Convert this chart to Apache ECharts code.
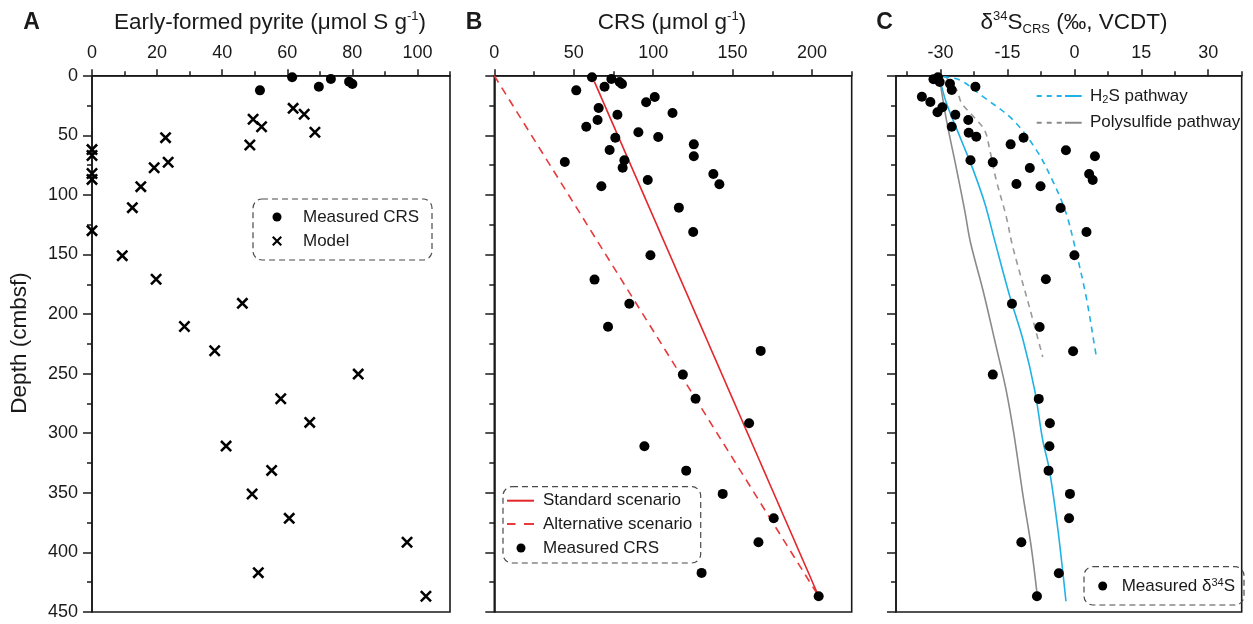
<!DOCTYPE html>
<html><head><meta charset="utf-8">
<script src="https://cdn.jsdelivr.net/npm/echarts@6/dist/echarts.min.js"></script>
<style>html,body{margin:0;padding:0;background:#fff}#c{width:1253px;height:624px}</style>
</head><body><div id="c"></div>
<script>
// ---------- data ----------
const depthTicks = [0, 50, 100, 150, 200, 250, 300, 350, 400, 450];
const aTicks = [0, 20, 40, 60, 80, 100];
const aMinorTicks = [10, 30, 50, 70, 90, 110];
const bTicks = [0, 50, 100, 150, 200];
const bMinorTicks = [25, 75, 125, 175, 225];
const cTicks = [-30, -15, 0, 15, 30];
const cMinorTicks = [-37.5, -22.5, -7.5, 7.5, 22.5, 37.5];

// Panel A: early-formed pyrite [umol S/g, depth cm]
const aMeasuredCRS = [[61.5,1.3],[73.4,2.8],[69.7,9.2],[51.6,12.3],[79,5],[80,7]];
const aModel = [[61.8,27.4],[49.5,36.6],[65.2,32.4],[52.1,42.8],[68.5,47.5],[48.5,58.1],[22.6,52],[23.4,72.6],
  [19.1,77.2],[15.0,93.1],[12.4,110.7],[0,130],[0,62],[0,67],[0,82],[0,87],[9.3,151],[19.7,170.8],[46.2,191],
  [28.4,210.5],[37.7,230.8],[81.8,250.4],[58.0,271.1],[66.9,290.9],[41.2,310.8],[55.2,331.2],[49.2,351],
  [60.6,371.4],[96.8,391.5],[51.1,417],[102.6,436.8]];

// Panel B: CRS [umol/g, depth cm]
const bMeasuredCRS = [[61.5,1.3],[73.7,2.8],[78.9,5.3],[80.4,7.0],[69.4,9.2],[51.6,12.3],[101,17.9],[95.6,22.3],
  [65.7,27.1],[112.2,31.3],[77.5,32.7],[65.0,37.2],[57.9,42.8],[90.7,47.5],[76.2,52],[103.2,51.4],[125.6,57.6],
  [72.6,62.3],[125.6,67.6],[44.4,72.4],[81.9,71],[80.8,77.2],[137.9,82.5],[141.7,91.1],[96.6,87.5],[67.4,92.8],
  [116.2,110.7],[125.2,131.1],[98.3,150.7],[63.1,171.1],[85.0,191.3],[71.6,210.6],[167.7,230.9],[118.7,250.8],
  [126.7,271],[160.4,291.6],[94.5,310.9],[120.8,331.4],[143.8,350.9],[175.9,371.3],[166.3,391.4],[130.5,417.2],
  [204.2,436.8]];
const bStandard = [[63,5],[204.2,436.8]];
const bAlternative = [[0,0],[204.2,436.8]];

// Panel C: d34S CRS [permil, depth cm]
const cMeasured = [[-31.6,3.0],[-30.6,1.3],[-30.2,5.3],[-27.9,6.7],[-27.5,12],[-22.2,9.2],[-34.2,17.6],[-32.3,22.1],
  [-29.6,26.5],[-30.7,30.7],[-26.7,32.7],[-23.8,37.2],[-27.5,42.8],[-23.7,47.8],[-22.0,51.2],[-11.4,52],[-14.3,57.6],
  [-1.9,62.6],[4.6,67.6],[-23.3,71],[-18.3,72.7],[-10.0,77.4],[3.3,82.5],[4.1,87.5],[-13.0,90.9],[-7.6,92.8],
  [-3.1,111],[2.7,131.1],[0,150.7],[-6.4,170.8],[-14.0,191.3],[-7.8,210.8],[-0.3,231.2],[-18.3,250.8],[-8.0,271.2],
  [-5.5,291.6],[-5.6,310.9],[-5.8,331.4],[-1.0,350.9],[-1.2,371.3],[-11.9,391.4],[-3.5,417.5],[-8.4,436.8]];
const cH2S = [[-30.2,2],[-28.7,23],[-25.7,51],[-22.7,79],[-20.1,107],[-17.9,138],[-14.5,185],[-11.5,222],
  [-8.9,264],[-7.1,306],[-5.6,331],[-3.7,381],[-1.9,441]];
const cH2SAlt = [[-29.4,1],[-25.7,3.6],[-20.5,17.6],[-13.8,37],[-8.6,62],[-4.9,88],[-1.9,115],[0,142],
  [2.6,185],[4.8,233],[5,236]];
const cPoly = [[-30.2,3],[-28.7,37],[-26.4,79],[-24.6,113],[-23.3,140],[-20.5,180],[-17.5,228],[-15.3,264],
  [-13.6,300],[-11.5,353],[-9.7,395],[-8.4,434]];
const cPolyAlt = [[-28.7,2],[-26.4,12],[-25.3,23],[-22.7,34],[-20.1,46],[-19.0,62],[-17.5,88],[-15.3,118],
  [-13.8,144],[-10.1,194],[-7.1,236]];

// ---------- chart ----------
const FONT = '"Liberation Sans", Arial, Helvetica, sans-serif';
const INK = '#1a1a1a';
const RED = '#e3262b';
const BLUE = '#1fb2e6';
const GREY = '#8a8a8a';
const CROSS = 'path://M1.5,0 L10,8.5 L8.5,10 L0,1.5 Z M8.5,0 L10,1.5 L1.5,10 L0,8.5 Z';

const grids = [
  {left: 92, top: 75.7, width: 358, height: 536.3},
  {left: 494.3, top: 75.7, width: 357.4, height: 536.3},
  {left: 896, top: 75.7, width: 345.7, height: 536.3}
].map(g => Object.assign({show: true, borderColor: INK, borderWidth: 1.6, backgroundColor: 'transparent'}, g));

function xMajor(gi, min, max, ticks) {
  return {type: 'value', gridIndex: gi, position: 'top', min, max,
    axisLine: {show: true, onZero: false, lineStyle: {color: INK, width: 1.6}},
    axisTick: {show: true, inside: false, length: 6.5, customValues: ticks, lineStyle: {color: INK, width: 1.5}},
    axisLabel: {show: true, margin: 14, customValues: ticks, fontFamily: FONT, fontSize: 18, color: INK},
    splitLine: {show: false}};
}
function xMinor(gi, min, max, ticks) {
  return {type: 'value', gridIndex: gi, position: 'top', min, max,
    axisLine: {show: false},
    axisTick: {show: true, length: 4.5, customValues: ticks, lineStyle: {color: INK, width: 1.5}},
    axisLabel: {show: false},
    splitLine: {show: false}};
}
function yAx(gi, showLabel) {
  return {type: 'value', gridIndex: gi, inverse: true, min: 0, max: 450, interval: 50,
    axisLine: {show: true, onZero: false, lineStyle: {color: INK, width: 1.6}},
    axisTick: {show: true, length: 9, customValues: depthTicks, lineStyle: {color: INK, width: 1.5}},
    minorTick: {show: true, splitNumber: 2, length: 5, lineStyle: {color: INK, width: 1.5}},
    axisLabel: {show: showLabel, margin: 14, customValues: depthTicks, fontFamily: FONT, fontSize: 18, color: INK},
    splitLine: {show: false}};
}

const xAxis = [
  xMajor(0, 0, 110, aTicks), xMajor(1, 0, 225, bTicks), xMajor(2, -40, 37.5, cTicks),
  xMinor(0, 0, 110, aMinorTicks), xMinor(1, 0, 225, bMinorTicks), xMinor(2, -40, 37.5, cMinorTicks)
];
const yAxis = [yAx(0, true), yAx(1, false), yAx(2, false)];

const dot = (name, data, xi) => ({type: 'scatter', name, data, xAxisIndex: xi, yAxisIndex: xi,
  symbol: 'circle', symbolSize: 10, itemStyle: {color: '#000', opacity: 1}, z: 5});
const line = (name, data, xi, color, width, type, smooth) => ({type: 'line', name, data, xAxisIndex: xi, yAxisIndex: xi,
  showSymbol: false, symbol: 'none', smooth: smooth, color: color,
  lineStyle: {color, width, type}, z: 3});

const series = [
  dot('Measured CRS', aMeasuredCRS, 0),
  {type: 'scatter', name: 'Model', data: aModel, xAxisIndex: 0, yAxisIndex: 0, symbol: CROSS, symbolSize: 12,
    itemStyle: {color: '#000', opacity: 1}, z: 5},
  line('Standard scenario', bStandard, 1, RED, 1.6, 'solid', false),
  line('Alternative scenario', bAlternative, 1, '#e8393d', 1.6, [8, 6], false),
  dot('Measured CRS', bMeasuredCRS, 1),
  line('H2S pathway', cH2S, 2, BLUE, 1.6, 'solid', 0.35),
  line('H2S alt', cH2SAlt, 2, BLUE, 1.6, [6, 5], 0.35),
  line('Polysulfide pathway', cPoly, 2, GREY, 1.6, 'solid', 0.35),
  line('Poly alt', cPolyAlt, 2, '#999', 1.6, [6, 5], 0.35),
  dot('Measured δ34S', cMeasured, 2)
];

const legTxt = {fontFamily: FONT, fontSize: 17, color: INK, lineHeight: 20,
  rich: {n: {fontFamily: FONT, fontSize: 17, color: INK, lineHeight: 20},
         sub: {fontFamily: FONT, fontSize: 11, color: INK, lineHeight: 20, verticalAlign: 'bottom', padding: [0, 0, 1, 0]},
         sup: {fontFamily: FONT, fontSize: 11, color: INK, lineHeight: 20, verticalAlign: 'top', padding: [1, 0, 0, 0]}}};
const fmt = name => {
  if (name === 'H2S pathway') return '{n|H}{sub|2}{n|S pathway}';
  if (name === 'Measured δ34S') return '{n|Measured δ}{sup|34}{n|S}';
  return '{n|' + name + '}';
};
// cx: icon centre, s: drawn icon width, tx: text start
const leg = (name, icon, cx, s, tx, centerY, h) => ({
  data: [{name, icon}], left: cx - s / 2, top: centerY - 10, itemWidth: 2 * (tx - cx - 5), itemHeight: h, padding: 0,
  selectedMode: false, formatter: fmt, textStyle: legTxt, symbolKeepAspect: true
});
const legend = [
  leg('Measured CRS', 'circle', 277, 9, 303, 217, 9),
  leg('Model', CROSS, 277, 10, 303, 241, 10),
  leg('Standard scenario', 'path://M0,0h27v2h-27z', 520.5, 27, 543, 500.7, 2),
  leg('Alternative scenario', 'path://M0,0h8.5v2h-8.5z M17,0h10v2h-10z', 520.5, 27, 543, 524, 2),
  leg('Measured CRS', 'circle', 521, 9, 543, 548, 9),
  leg('H2S pathway', 'path://M0,0h5v2h-5z M10,0h5v2h-5z M20,0h5v2h-5z M28.3,0h16.7v2h-16.7z', 1059.2, 45, 1090, 96, 2),
  leg('Polysulfide pathway', 'path://M0,0h5v2h-5z M10,0h5v2h-5z M20,0h5v2h-5z M28.3,0h16.7v2h-16.7z', 1059.2, 45, 1090, 122.7, 2),
  leg('Measured δ34S', 'circle', 1102.7, 9, 1121.7, 586, 9)
];

const titleRich = {
  t: {fontFamily: FONT, fontSize: 22.5, color: INK, lineHeight: 28},
  sup: {fontFamily: FONT, fontSize: 13, color: INK, lineHeight: 28, verticalAlign: 'top', padding: [1, 0, 0, 0]},
  sub: {fontFamily: FONT, fontSize: 13, color: INK, lineHeight: 28, verticalAlign: 'bottom', padding: [0, 0, 1, 0]}
};
const gtext = (x, y, text, extra) => ({type: 'text', x, y, z: 10,
  style: Object.assign({text, rich: titleRich, align: 'center', verticalAlign: 'middle', fill: INK,
    fontFamily: FONT, fontSize: 22.5}, extra || {})});
const box = (x, y, w, h) => ({type: 'rect', z: 1, shape: {x, y, width: w, height: h, r: 9},
  style: {fill: 'none', stroke: '#4a4a4a', lineWidth: 1.2, lineDash: [6, 4]}});

const graphic = [
  gtext(31.5, 23, 'A', {fontWeight: 'bold', fontSize: 23, rich: null}),
  gtext(474, 23, 'B', {fontWeight: 'bold', fontSize: 23, rich: null}),
  gtext(884.5, 23, 'C', {fontWeight: 'bold', fontSize: 23, rich: null}),
  gtext(270, 23, '{t|Early-formed pyrite (μmol S g}{sup|-1}{t|)}'),
  gtext(672, 23, '{t|CRS (μmol g}{sup|-1}{t|)}'),
  gtext(1074, 23, '{t|δ}{sup|34}{t|S}{sub|CRS}{t| (‰, VCDT)}'),
  {type: 'text', x: 20, y: 343, rotation: Math.PI / 2, z: 10,
    style: {text: 'Depth (cmbsf)', align: 'center', verticalAlign: 'middle', fill: INK, fontFamily: FONT, fontSize: 22.5}},
  box(253, 199, 179, 61),
  box(503, 486.7, 197.7, 76.3),
  box(1084, 566.7, 160, 38.3)
];

const chart = echarts.init(document.getElementById('c'), null, {renderer: 'canvas'});
chart.setOption({
  animation: false, backgroundColor: '#fff',
  grid: grids, xAxis, yAxis, series, legend, graphic
});
</script></body></html>
